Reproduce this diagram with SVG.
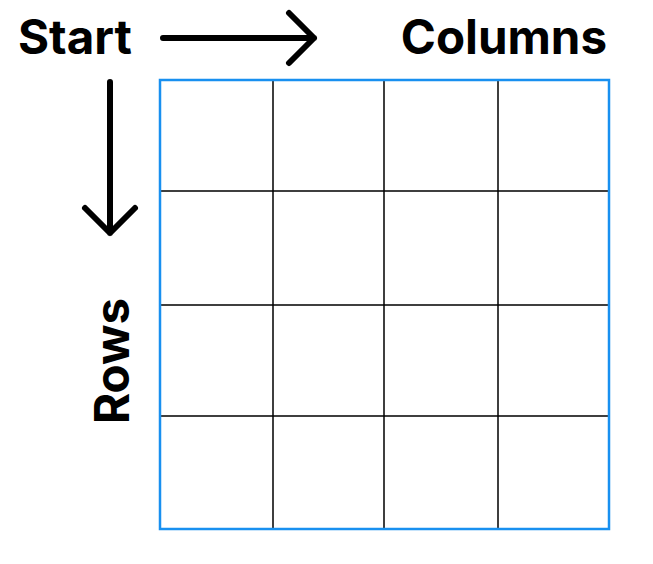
<svg xmlns="http://www.w3.org/2000/svg" width="653" height="564" viewBox="0 0 653 564">
  <style>
    .label { font-family: Inter, "Liberation Sans", sans-serif; font-weight: 700; font-size: 47.5px; fill: #000; }
    .arrow { fill: none; stroke: #000; stroke-width: 6; stroke-linecap: round; stroke-linejoin: round; }
    .grid { stroke: #000; stroke-width: 1.5; }
    .frame { fill: none; stroke: #1890f0; stroke-width: 2.5; }
  </style>
  <rect width="653" height="564" fill="#fff"/>

  <g id="start"><text class="label" x="18" y="54">Start</text></g>
  <g id="columns"><text class="label" x="607" y="54" text-anchor="end">Columns</text></g>
  <g id="rows"><text class="label" transform="translate(129 361) rotate(-90)" text-anchor="middle">Rows</text></g>

  <g id="connectors">
    <path class="arrow" d="M163 38 H314 M289 13 L314 38 L289 63"/>
    <path class="arrow" d="M110 82 V233 M85 208 L110 233 L135 208"/>
  </g>

  <g id="grid">
    <path class="grid" d="M273 80 V529 M384 80 V529 M498 80 V529 M160 191 H609 M160 305 H609 M160 416 H609"/>
    <rect class="frame" x="160" y="80" width="449" height="449"/>
  </g>
</svg>
